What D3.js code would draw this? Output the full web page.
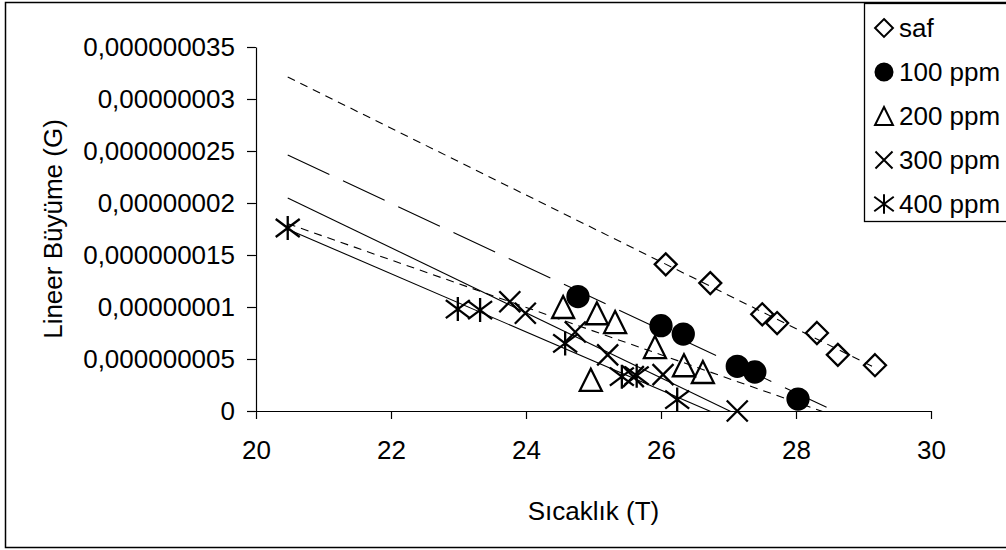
<!DOCTYPE html>
<html>
<head>
<meta charset="utf-8">
<script src="https://cdn.jsdelivr.net/npm/d3@7"></script>
<style>
body { margin: 0; background: #fff; }
svg { display: block; font-family: "Liberation Sans", Arial, sans-serif; }
</style>
</head>
<body>
<script>
// series names (legend order)
const seriesNames = ["saf", "100 ppm", "200 ppm", "300 ppm", "400 ppm"];

// values (x = Sıcaklık, y = Lineer Büyüme)
const safX = [26.07, 26.73, 27.50, 27.72, 28.31, 28.62, 29.17];
const safY = [1.41e-8, 1.23e-8, 0.93e-8, 0.846e-8, 0.75e-8, 0.54e-8, 0.44e-8];
const ppm100X = [24.77, 26.00, 26.33, 27.13, 27.39, 28.03];
const ppm100Y = [1.10e-8, 0.82e-8, 0.74e-8, 0.43e-8, 0.375e-8, 0.115e-8];
const ppm200X = [24.55, 25.05, 25.32, 25.91, 24.96, 26.34, 26.62];
const ppm200Y = [1.00e-8, 0.94e-8, 0.855e-8, 0.615e-8, 0.30e-8, 0.44e-8, 0.375e-8];
const ppm300X = [23.76, 23.99, 24.73, 25.21, 25.59, 26.03, 27.13];
const ppm300Y = [1.05e-8, 0.94e-8, 0.76e-8, 0.54e-8, 0.33e-8, 0.35e-8, 0];
const ppm400X = [20.47, 22.99, 23.32, 24.58, 25.42, 25.64, 26.24];
const ppm400Y = [1.76e-8, 0.98e-8, 0.97e-8, 0.65e-8, 0.33e-8, 0.34e-8, 0.11e-8];

const xTicks = [20, 22, 24, 26, 28, 30];
const yTicks = [0, 5e-9, 1e-8, 1.5e-8, 2e-8, 2.5e-8, 3e-8, 3.5e-8];
const yTickLabels = ["0", "0,000000005", "0,00000001", "0,000000015", "0,00000002",
                     "0,000000025", "0,00000003", "0,000000035"];

const width = 1006;
const height = 550;

const svg = d3.select("body").append("svg")
    .attr("width", width)
    .attr("height", height);

// chart area border (right side runs off the picture)
svg.append("rect")
    .attr("x", 5.5).attr("y", 2.5)
    .attr("width", 1020).attr("height", 545)
    .attr("fill", "#fff")
    .attr("stroke", "#000")
    .attr("stroke-width", 1.5);

const x = d3.scaleLinear().domain([20, 30]).range([256, 931]);
const y = d3.scaleLinear().domain([0, 3.5e-8]).range([411, 47]);

// marker shapes
const diamond = {
    draw(ctx, size) {
        const r = Math.sqrt(size) / 2;
        ctx.moveTo(0, -r); ctx.lineTo(r, 0); ctx.lineTo(0, r); ctx.lineTo(-r, 0); ctx.closePath();
    }
};
const triangle = {
    draw(ctx, size) {
        const r = Math.sqrt(size) / 2;
        ctx.moveTo(0, -r); ctx.lineTo(r, r); ctx.lineTo(-r, r); ctx.closePath();
    }
};
const cross = {
    draw(ctx, size) {
        const r = Math.sqrt(size) / 2;
        ctx.moveTo(-r, -r); ctx.lineTo(r, r);
        ctx.moveTo(r, -r); ctx.lineTo(-r, r);
    }
};
const star = {
    draw(ctx, size) {
        const r = Math.sqrt(size) / 2;
        ctx.moveTo(-r, -r * 0.75); ctx.lineTo(r, r * 0.75);
        ctx.moveTo(r, -r * 0.75); ctx.lineTo(-r, r * 0.75);
        ctx.moveTo(0, -r); ctx.lineTo(0, r);
    }
};

const series = [
    { name: seriesNames[0], xs: safX, ys: safY, type: diamond, fill: "none", size: 22 * 22, dash: "8,6" },
    { name: seriesNames[1], xs: ppm100X, ys: ppm100Y, type: d3.symbolCircle, fill: "#000", size: Math.PI * 10.5 * 10.5, dash: "46,15" },
    { name: seriesNames[2], xs: ppm200X, ys: ppm200Y, type: triangle, fill: "none", size: 22 * 22, dash: "8,6" },
    { name: seriesNames[3], xs: ppm300X, ys: ppm300Y, type: cross, fill: "none", size: 21 * 21, dash: null },
    { name: seriesNames[4], xs: ppm400X, ys: ppm400Y, type: star, fill: "none", size: 24 * 24, dash: null }
];

// axes
const yAxis = svg.append("g")
    .attr("transform", `translate(${x(20)},0)`)
    .call(d3.axisLeft(y).tickValues(yTicks)
        .tickFormat((d, i) => yTickLabels[i])
        .tickSize(9).tickSizeOuter(0).tickPadding(12));

const xAxis = svg.append("g")
    .attr("transform", `translate(0,${y(0)})`)
    .call(d3.axisBottom(x).tickValues(xTicks)
        .tickSize(8).tickSizeOuter(0).tickPadding(22));

[yAxis, xAxis].forEach(a => {
    a.selectAll("path, line").attr("stroke", "#000").attr("stroke-width", 1.2);
    a.selectAll("text").attr("font-size", 26).attr("fill", "#000")
        .attr("font-family", "'Liberation Sans', Arial, sans-serif");
});

// axis titles
svg.append("text")
    .attr("x", (x(20) + x(30)) / 2).attr("y", 520)
    .attr("text-anchor", "middle")
    .attr("font-size", 26)
    .text("Sıcaklık (T)");

svg.append("text")
    .attr("transform", `translate(62,${(y(0) + y(3.5e-8)) / 2}) rotate(-90)`)
    .attr("text-anchor", "middle")
    .attr("font-size", 26)
    .text("Lineer Büyüme (G)");

// linear trendlines, fitted to each series and clipped to the plot area
svg.append("clipPath").attr("id", "plotClip")
    .append("rect")
    .attr("x", x(20)).attr("y", y(3.5e-8))
    .attr("width", x(30) - x(20)).attr("height", y(0) - y(3.5e-8));

const allX = [].concat(...series.map(s => s.xs));
const xMin = d3.min(allX), xMax = d3.max(allX);

function fit(xs, ys) {
    const mx = d3.mean(xs), my = d3.mean(ys);
    let sxy = 0, sxx = 0;
    xs.forEach((v, i) => { sxy += (v - mx) * (ys[i] - my); sxx += (v - mx) * (v - mx); });
    const b = sxy / sxx;
    return t => my + b * (t - mx);
}

const trend = svg.append("g").attr("clip-path", "url(#plotClip)");
series.forEach(s => {
    const f = fit(s.xs, s.ys);
    trend.append("line")
        .attr("x1", x(xMin)).attr("y1", y(f(xMin)))
        .attr("x2", x(xMax)).attr("y2", y(f(xMax)))
        .attr("stroke", "#000")
        .attr("stroke-width", 1.1)
        .attr("stroke-dasharray", s.dash);
});

// markers
series.forEach(s => {
    const sym = d3.symbol().type(s.type).size(s.size);
    svg.append("g").selectAll("path")
        .data(s.xs.map((v, i) => [v, s.ys[i]]))
        .enter()
        .append("path")
        .attr("transform", d => `translate(${x(d[0])},${y(d[1])})`)
        .attr("d", sym)
        .attr("fill", s.fill)
        .attr("stroke", "#000")
        .attr("stroke-width", 2.3);
});

// legend
const legend = svg.append("g");
legend.append("rect")
    .attr("x", 864.5).attr("y", 3.5)
    .attr("width", 160).attr("height", 218)
    .attr("fill", "#fff")
    .attr("stroke", "#000")
    .attr("stroke-width", 1.3);

series.forEach((s, i) => {
    const ly = 28 + i * 44;
    legend.append("path")
        .attr("transform", `translate(884,${ly})`)
        .attr("d", d3.symbol().type(s.type).size(s.size * 0.66))
        .attr("fill", s.fill)
        .attr("stroke", "#000")
        .attr("stroke-width", 2);
    legend.append("text")
        .attr("x", 899).attr("y", ly)
        .attr("dy", "0.36em")
        .attr("font-size", 26)
        .text(s.name);
});
</script>
</body>
</html>
